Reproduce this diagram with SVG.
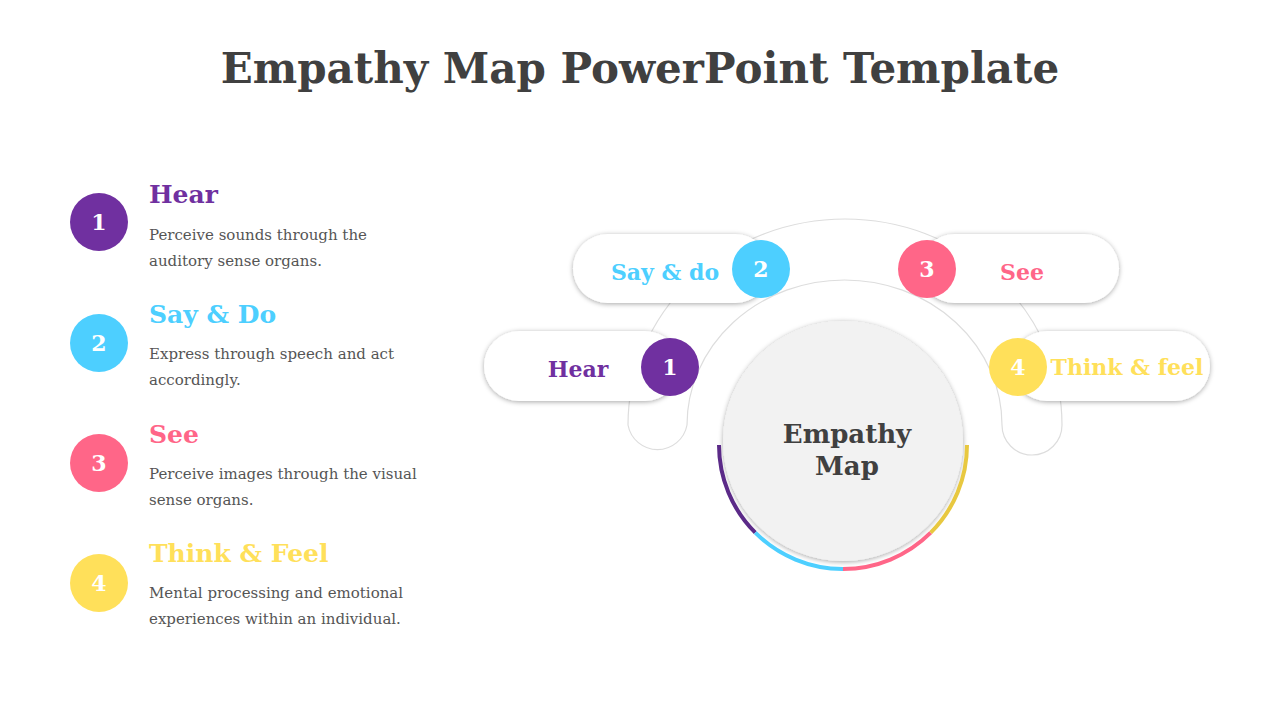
<svg xmlns="http://www.w3.org/2000/svg" width="1280" height="720" viewBox="0 0 1280 720">
<defs>
<filter id="sh" x="-20%" y="-30%" width="140%" height="160%"><feDropShadow dx="0" dy="1" stdDeviation="2.5" flood-color="#000" flood-opacity="0.35"/></filter>
<style>
.s{font-family:"DejaVu Serif","Liberation Serif",serif;font-weight:bold}
.d{font-family:"DejaVu Serif","Liberation Serif",serif;font-size:15px;fill:#555}
.n{font-family:"DejaVu Serif","Liberation Serif",serif;font-weight:bold;font-size:22px;fill:#fff;text-anchor:middle}
.pill{fill:#fff;filter:url(#sh)}
</style>
</defs>
<rect width="1280" height="720" fill="#fff"/>
<text x="640" y="83" class="s" font-size="42" fill="#404040" text-anchor="middle">Empathy Map PowerPoint Template</text>
<g id="list">
<circle cx="99" cy="222" r="29" fill="#7030a0"/><text x="99" y="230" class="n">1</text>
<text x="149" y="203" class="s" font-size="25" fill="#7030a0">Hear</text>
<text x="149" y="240" class="d">Perceive sounds through the</text><text x="149" y="266" class="d">auditory sense organs.</text>
<circle cx="99" cy="343" r="29" fill="#4dcfff"/><text x="99" y="351" class="n">2</text>
<text x="149" y="323" class="s" font-size="25" fill="#4dcfff">Say &amp; Do</text>
<text x="149" y="359" class="d">Express through speech and act</text><text x="149" y="385" class="d">accordingly.</text>
<circle cx="99" cy="463" r="29" fill="#ff6688"/><text x="99" y="471" class="n">3</text>
<text x="149" y="443" class="s" font-size="25" fill="#ff6688">See</text>
<text x="149" y="479" class="d">Perceive images through the visual</text><text x="149" y="505" class="d">sense organs.</text>
<circle cx="99" cy="583" r="29" fill="#ffe05a"/><text x="99" y="591" class="n">4</text>
<text x="149" y="562" class="s" font-size="25" fill="#ffe05a">Think &amp; Feel</text>
<text x="149" y="598" class="d">Mental processing and emotional</text><text x="149" y="624" class="d">experiences within an individual.</text>
</g>
<g id="connectors">
<path d="M628,425 A217,206 0 0 1 1062,425 A30,30 0 0 1 1002,425 A157.5,145 0 0 0 687,425 A30,30 0 0 1 628,425 Z" fill="#fff" stroke="#ddd" stroke-width="1.2"/>
</g>
<g id="say"><rect x="573" y="234" width="197" height="69" rx="34.5" class="pill"/><text x="665" y="280" class="s" font-size="22" fill="#4dcfff" text-anchor="middle">Say &amp; do</text><circle cx="761" cy="269" r="29" fill="#4dcfff"/><text x="761" y="277" class="n">2</text></g>
<g id="see"><rect x="920" y="234" width="199" height="69" rx="34.5" class="pill"/><text x="1022" y="280" class="s" font-size="22" fill="#ff6688" text-anchor="middle">See</text><circle cx="927" cy="269" r="29" fill="#ff6688"/><text x="927" y="277" class="n">3</text></g>
<g id="hear"><rect x="484" y="331" width="196" height="70" rx="35" class="pill"/><text x="578" y="377" class="s" font-size="22" fill="#7030a0" text-anchor="middle">Hear</text><circle cx="670" cy="367" r="29" fill="#7030a0"/><text x="670" y="375" class="n">1</text></g>
<g id="think"><rect x="1012" y="331" width="198" height="70" rx="35" class="pill"/><text x="1127" y="375" class="s" font-size="22" fill="#ffe05a" text-anchor="middle">Think &amp; feel</text><circle cx="1018" cy="367" r="29" fill="#ffe05a"/><text x="1018" y="375" class="n">4</text></g>
<g id="center">
<circle cx="843" cy="441" r="120" fill="#f2f2f2" filter="url(#sh)"/>
<g fill="none" stroke-width="4">
<path d="M719,445 A124,124 0 0 0 755.3,532.7" stroke="#5b2a88"/>
<path d="M755.3,532.7 A124,124 0 0 0 843,569" stroke="#4dcfff"/>
<path d="M843,569 A124,124 0 0 0 930.7,532.7" stroke="#ff6688"/>
<path d="M930.7,532.7 A124,124 0 0 0 967,445" stroke="#e8c840"/>
</g>
<text x="847" y="443" class="s" font-size="26" fill="#404040" text-anchor="middle">Empathy</text>
<text x="847" y="475" class="s" font-size="26" fill="#404040" text-anchor="middle">Map</text>
</g>
</svg>
